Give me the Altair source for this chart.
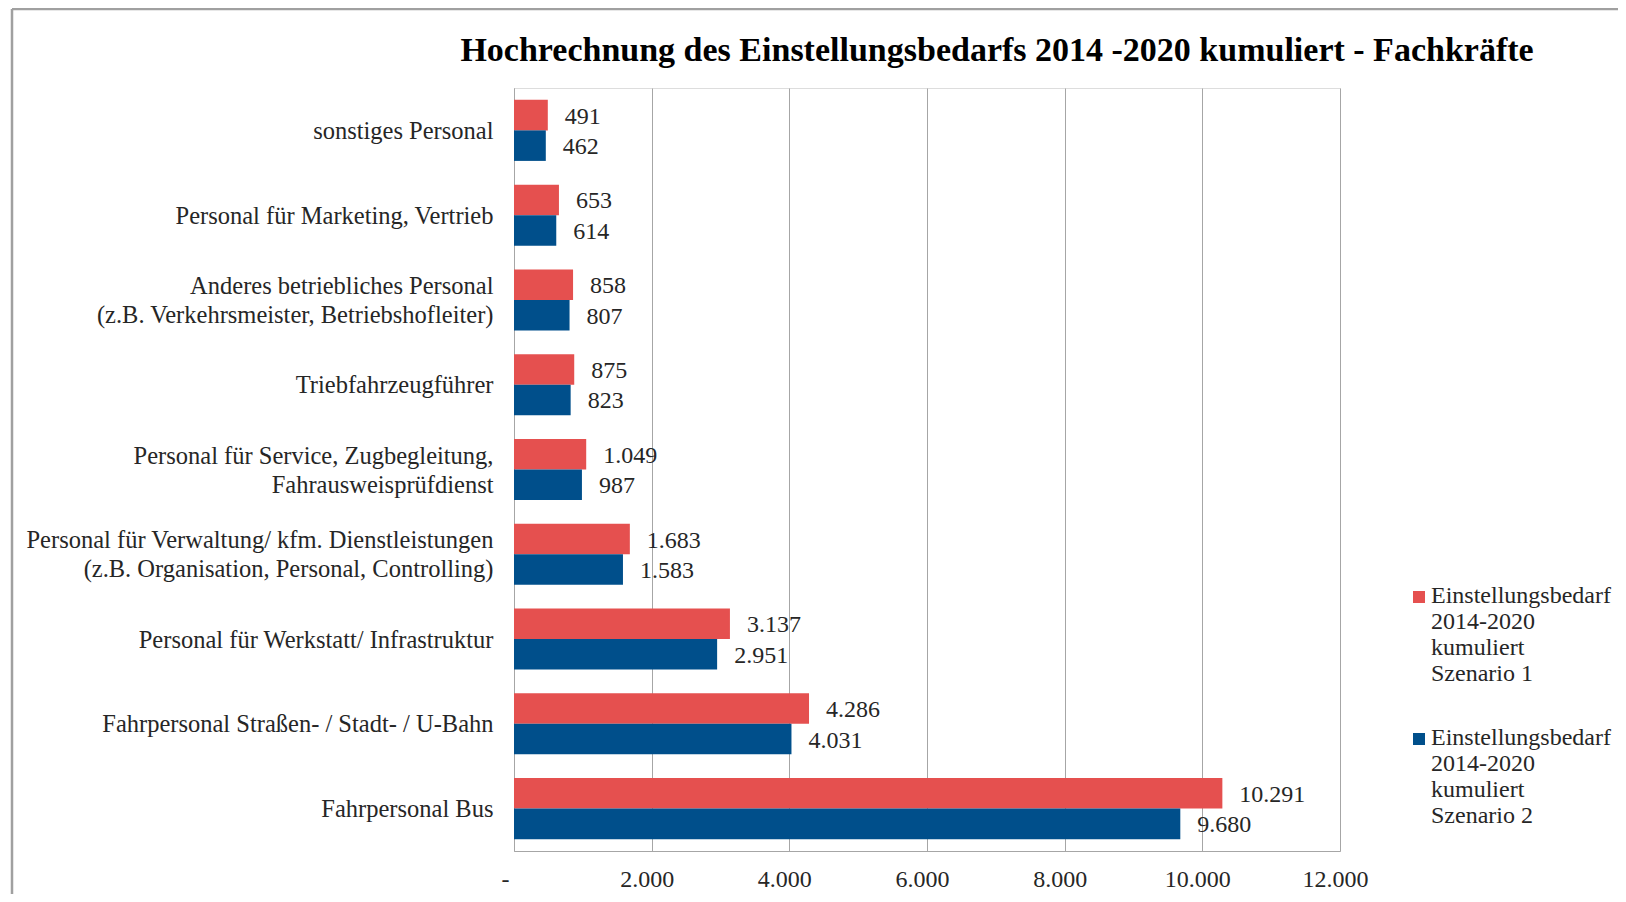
import altair as alt
import pandas as pd

# ---- data ----
categories = [
    "sonstiges Personal",
    "Personal für Marketing, Vertrieb",
    "Anderes betriebliches Personal|(z.B. Verkehrsmeister, Betriebshofleiter)",
    "Triebfahrzeugführer",
    "Personal für Service, Zugbegleitung,|Fahrausweisprüfdienst",
    "Personal für Verwaltung/ kfm. Dienstleistungen|(z.B. Organisation, Personal, Controlling)",
    "Personal für Werkstatt/ Infrastruktur",
    "Fahrpersonal Straßen- / Stadt- / U-Bahn",
    "Fahrpersonal Bus",
]
szenario1 = [491, 653, 858, 875, 1049, 1683, 3137, 4286, 10291]
szenario2 = [462, 614, 807, 823, 987, 1583, 2951, 4031, 9680]
series = [
    "Einstellungsbedarf 2014-2020 kumuliert Szenario 1",
    "Einstellungsbedarf 2014-2020 kumuliert Szenario 2",
]
colors = ["#E5504F", "#004F8B"]
x_ticks = [0, 2000, 4000, 6000, 8000, 10000, 12000]
title_text = "Hochrechnung des Einstellungsbedarfs 2014 -2020 kumuliert - Fachkräfte"

rows = []
for c, v1, v2 in zip(categories, szenario1, szenario2):
    rows.append({"Kategorie": c, "Reihe": series[0], "Wert": v1})
    rows.append({"Kategorie": c, "Reihe": series[1], "Wert": v2})
df = pd.DataFrame(rows)

FONT = "Liberation Serif"

y_enc = alt.Y(
    "Kategorie:N",
    sort=categories,
    scale=alt.Scale(paddingInner=0.28, paddingOuter=0.14),
    axis=alt.Axis(
        title=None,
        ticks=False,
        domainColor="#A6A6A6",
        domainWidth=1,
        labelFont=FONT,
        labelFontSize=24.5,
        labelColor="#262626",
        labelPadding=21,
        labelLimit=0,
        labelLineHeight=29,
        labelOffset={"condition": {"test": "indexof(datum.value, '|') >= 0", "value": -13}, "value": 1.5},
        labelExpr="split(datum.label, '|')",
    ),
)
yoff_enc = alt.YOffset("Reihe:N", sort=series, scale=alt.Scale(paddingInner=0, paddingOuter=0))
x_enc = alt.X(
    "Wert:Q",
    scale=alt.Scale(domain=[0, 12000], nice=False),
    axis=alt.Axis(
        title=None,
        values=x_ticks,
        ticks=False,
        grid=True,
        gridColor="#A6A6A6",
        gridWidth=1,
        domainColor="#A6A6A6",
        domainWidth=1,
        labelFont=FONT,
        labelFontSize=24,
        labelColor="#262626",
        labelPadding=16,
        labelFlush=False,
        labelOffset={"condition": {"test": "datum.value == 0", "value": -9}, "value": -5},
        labelExpr="datum.value == 0 ? '-' : replace(format(datum.value, ','), ',', '.')",
    ),
)
color_enc = alt.Color(
    "Reihe:N",
    sort=series,
    scale=alt.Scale(domain=series, range=colors),
    legend=alt.Legend(
        title=None,
        orient="none",
        legendX=893,
        legendY=503,
        padding=0,
        symbolType="M-1,-2H1V0H-1Z",
        symbolSize=144,
        symbolStrokeWidth=0,
        symbolOpacity=1,
        labelFont=FONT,
        labelFontSize=24,
        labelColor="#262626",
        labelBaseline="alphabetic",
        labelOffset=0,
        labelLimit=0,
        rowPadding=40,
        labelExpr=(
            "[split(datum.label, ' ')[0], split(datum.label, ' ')[1], "
            "split(datum.label, ' ')[2], split(datum.label, ' ')[3] + ' ' + split(datum.label, ' ')[4]]"
        ),
    ),
)

base = alt.Chart(df)
bars = base.mark_bar().encode(y=y_enc, yOffset=yoff_enc, x=x_enc, color=color_enc)
labels = base.mark_text(
    align="left", baseline="middle", dx=17, dy=1.5, font=FONT, fontSize=24, color="#262626"
).transform_calculate(
    txt="replace(format(datum.Wert, ','), ',', '.')"
).encode(
    y=alt.Y("Kategorie:N", sort=categories),
    yOffset=alt.YOffset("Reihe:N", sort=series),
    x="Wert:Q",
    text="txt:N",
)

frame_df = pd.DataFrame({"f": [0]})
frame_v = alt.Chart(frame_df).mark_rule(color="#A0A0A0", strokeWidth=2.5).encode(
    x=alt.value(-502), y=alt.value(-79), y2=alt.value(806)
)
frame_h = alt.Chart(frame_df).mark_rule(color="#A0A0A0", strokeWidth=2.5).encode(
    x=alt.value(-502), x2=alt.value(1104), y=alt.value(-79)
)

chart = alt.layer(frame_v, frame_h, bars, labels).properties(
    width=826,
    height=763,
    autosize=alt.AutoSizeParams(type="none"),
    padding={"left": 506, "top": 80, "right": 278, "bottom": 43},
    title=alt.TitleParams(
        text=title_text,
        font=FONT,
        fontSize=34,
        fontWeight="bold",
        color="#000000",
        anchor="middle",
        frame="group",
        baseline="alphabetic",
        offset=0,
        dx=70,
        dy=87,
    ),
).configure_view(stroke=None).configure(background="white")

chart.save("out.html", embed_options={"renderer": "svg", "actions": False})
